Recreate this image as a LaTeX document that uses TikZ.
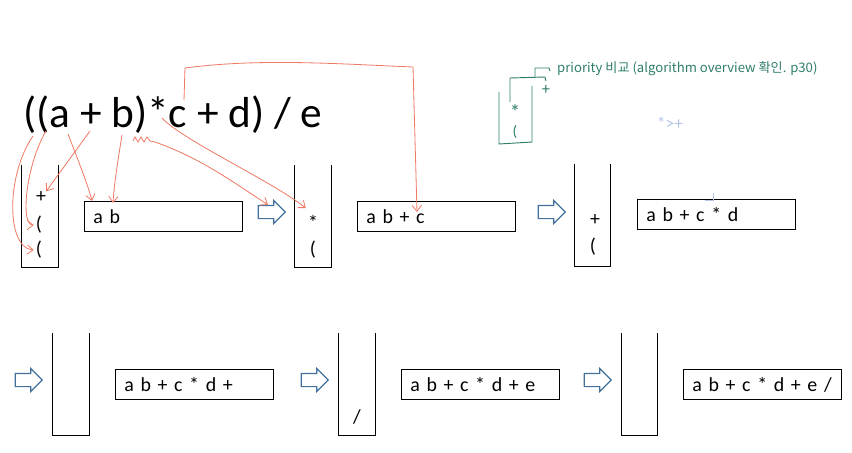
\documentclass[tikz,border=0pt]{standalone}
\usepackage{fontspec}
\setmainfont{Carlito}
\newfontfamily\krfont{Noto Sans CJK KR}
\usepackage{xcolor}
\usetikzlibrary{arrows.meta,shapes.arrows,positioning}
\definecolor{penRed}{HTML}{EF7B65}
\definecolor{penGreen}{HTML}{2E7D6B}
\definecolor{arrBlue}{HTML}{41719C}
\definecolor{paleBlue}{HTML}{B4C7E7}

\begin{document}
\begin{tikzpicture}[x=0.03cm, y=-0.03cm,
  stack/.style={minimum width=1.08cm, minimum height=3.06cm, inner sep=0pt},
  stackline/.style={line width=0.8pt},
  outbox/.style={draw, line width=0.6pt, anchor=north west, text width=4.2cm, inner xsep=0.27cm, inner ysep=0pt, minimum height=0.9cm, align=left, font=\fontsize{17}{19}\selectfont},
  item/.style={inner sep=0pt, font=\fontsize{17}{19}\selectfont},
  hollow/.style={single arrow, draw=arrBlue, line width=1pt, fill=white, minimum height=0.81cm, inner xsep=0pt, inner ysep=0.18cm, single arrow head extend=0.15cm},
  pen/.style={penRed, line width=0.7pt, -{Straight Barb[length=1.8mm, width=2.8mm]}},
  note/.style={penGreen, line width=0.8pt},
  notetext/.style={penGreen, inner sep=0pt, font=\fontsize{14}{16}\selectfont}]
\useasboundingbox (0,0) rectangle (852,452);

\node[anchor=base west, inner sep=0pt, font=\fontsize{37}{41}\selectfont] (expr) at (23,128) {((a + b)*c + d) / e};

\node[stack] (s1) at (40,216) {};
\node[stack] (s2) at (313,216) {};
\node[stack] (s3) at (592.5,215) {};
\node[stack] (s4) at (71,384) {};
\node[stack] (s5) at (357,384) {};
\node[stack] (s6) at (639.5,384) {};
\draw[stackline] (s1.north west) |- (s1.south east) -- (s1.north east);
\draw[stackline] (s2.north west) |- (s2.south east) -- (s2.north east);
\draw[stackline] (s3.north west) |- (s3.south east) -- (s3.north east);
\draw[stackline] (s4.north west) |- (s4.south east) -- (s4.north east);
\draw[stackline] (s5.north west) |- (s5.south east) -- (s5.north east);
\draw[stackline] (s6.north west) |- (s6.south east) -- (s6.north east);

\node[item] (top1) at (41,197) {+};
\node[item] (mid1) at (39,225) {(};
\node[item] (bot1) at (39,250) {(};
\node[item] (top2) at (313,222) {*};
\node[item] (bot2) at (313,250) {(};
\node[item] (top3) at (595,220) {+};
\node[item] (bot3) at (593,247) {(};
\node[item] (bot5) at (357,417) {/};

\node[outbox] (box1) at (84,201) {a b};
\node[outbox] (box2) at (357,201) {a b + c};
\node[outbox] (box3) at (637,199) {a b + c * d};
\node[outbox] (box4) at (115,369) {a b + c * d +};
\node[outbox] (box5) at (401,369) {a b + c * d + e};
\node[outbox] (box6) at (683,369) {a b + c * d + e /};

\node[hollow] (ar1) at (268.5,212) {};
\node[hollow] (ar2) at (548.5,212) {};
\node[hollow] (ar3) at (25.5,380) {};
\node[hollow] (ar4) at (311.5,380) {};
\node[hollow] (ar5) at (594.5,380) {};

\coordinate (lpA) at (33,136);
\coordinate (lpB) at (46,131);
\coordinate (ca) at (68,134);
\coordinate (cplus) at (90,131);
\coordinate (cb) at (122,135);
\coordinate (sq) at (133,141);
\coordinate (cstar) at (162,118);
\coordinate (cc) at (184,100);

\draw[pen] (lpA) .. controls (6,175) and (6,248) .. ([xshift=-0.06cm]bot1.west);
\draw[pen] (lpB) .. controls (26,165) and (20,225) .. ([xshift=-0.06cm]mid1.west);
\draw[pen] (ca) .. controls (78,160) and (88,185) .. ([xshift=0.24cm]box1.north west);
\draw[pen] (cplus) -- (top1.north east);
\draw[pen] (cb) .. controls (118,160) and (114,185) .. ([xshift=0.87cm,yshift=-0.06cm]box1.north west);
\draw[pen] (sq) -- ++(2,-4) -- ++(3,5) -- ++(3,-5) -- ++(3,5) -- ++(3,-5) -- ++(3,4) -- ++(5,1) .. controls (200,158) and (230,180) .. ([xshift=0.2cm]ar1.north west);
\draw[pen] (cstar) .. controls (182,140) and (270,180) .. ([xshift=-0.06cm,yshift=0.2cm]top2.north west);
\draw[pen] (cc) -- (185,68) .. controls (260,58) and (340,64) .. (413,67) -- ([xshift=1.8cm,yshift=-0.33cm]box2.north west);

\draw[note] (499,92) -- (499,144) -- (532,142) -- (532,86);
\draw[note] (510,102) -- (510,78) -- (545,77) -- (546,81);
\draw[note] (535,77) -- (535,68) -- (549,68) -- (550,71);
\node[notetext] (gplus) at (546,90) {+};
\node[notetext, font=\fontsize{18}{20}\selectfont] (gstar) at (515,112) {*};
\node[notetext, font=\fontsize{13}{15}\selectfont] (gpar) at (515,132) {(};
\node[notetext, anchor=base west, font=\krfont\fontsize{11.2}{13}\selectfont] (prio) at (557,73) {priority 비교 (algorithm overview 확인. p30)};
\node[paleBlue, inner sep=0pt, font=\fontsize{15}{17}\selectfont] (cmp) at (670,123) {*>+};
\draw[paleBlue, line width=0.5pt] (713,193) -- (713,200) -- (705,200);
\end{tikzpicture}
\end{document}
